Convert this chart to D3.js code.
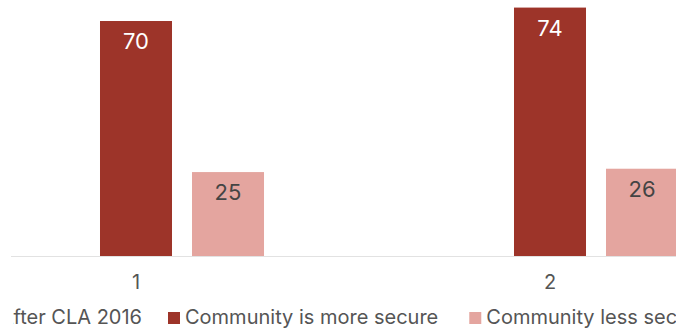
<!DOCTYPE html>
<html>
<head>
<meta charset="utf-8">
<script src="https://cdn.jsdelivr.net/npm/d3@7"></script>
<style>
  html, body { margin: 0; padding: 0; background: #fff; }
  svg { display: block; font-family: Inter, "Noto Sans", sans-serif; }
</style>
</head>
<body>
<svg id="chart" width="693" height="328"></svg>
<script>
// Survey answers, grouped by wave
const categories = ["1", "2"];
const seriesNames = ["After CLA 2016", "Community is more secure", "Community less secure"];
const afterCla = [0, 0];
const moreSecure = [70, 74];
const lessSecure = [25, 26];
const seriesValues = [afterCla, moreSecure, lessSecure];
const seriesColors = ["#ffffff", "#9d3429", "#e4a59f"];
const labelColors = ["#444444", "#ffffff", "#444444"];

const svg = d3.select("#chart");
const width = 693, height = 328;
const viewLeft = 11, viewRight = 676;
const baseline = 256;

const defs = svg.append("defs");
defs.append("clipPath").attr("id", "view")
  .append("rect").attr("x", viewLeft).attr("y", 0)
  .attr("width", viewRight - viewLeft).attr("height", height);
defs.append("clipPath").attr("id", "legendView")
  .append("rect").attr("x", viewLeft + 2).attr("y", 0)
  .attr("width", viewRight - viewLeft - 2).attr("height", height);

const root = svg.append("g").attr("clip-path", "url(#view)");

const x0 = d3.scaleBand().domain(categories).range([-71, 757])
  .paddingInner(0.3816).paddingOuter(0.1908);
const x1 = d3.scaleBand().domain(seriesNames).range([0, x0.bandwidth()])
  .paddingInner(20 / 92).paddingOuter(0);
const y = d3.scaleLinear().domain([0, 80]).range([baseline, baseline - 80 * 3.357]);

const rows = categories.map((c, i) => ({
  cat: c,
  vals: seriesNames.map((s, j) => ({ series: s, idx: j, value: seriesValues[j][i] }))
}));

const groups = root.selectAll("g.group").data(rows).join("g")
  .attr("class", "group")
  .attr("transform", d => `translate(${x0(d.cat)},0)`);

groups.selectAll("rect").data(d => d.vals.filter(v => v.value > 0)).join("rect")
  .attr("x", d => x1(d.series))
  .attr("y", d => y(d.value))
  .attr("width", x1.bandwidth())
  .attr("height", d => y(0) - y(d.value))
  .attr("fill", d => seriesColors[d.idx]);

groups.selectAll("text.val").data(d => d.vals.filter(v => v.value > 0)).join("text")
  .attr("class", "val")
  .attr("x", d => x1(d.series) + x1.bandwidth() / 2)
  .attr("y", d => y(d.value) + 28)
  .attr("text-anchor", "middle")
  .attr("font-size", 22)
  .attr("fill", d => labelColors[d.idx])
  .text(d => d.value);

// Baseline axis
const axis = root.append("g").attr("transform", `translate(0,${baseline})`)
  .call(d3.axisBottom(x0).tickSize(0).tickPadding(0));
axis.select(".domain").remove();
axis.append("line").attr("x1", viewLeft).attr("x2", viewRight)
  .attr("y1", 0.5).attr("y2", 0.5).attr("stroke", "#e2e2e2");
axis.selectAll(".tick text")
  .attr("y", 33).attr("dy", null)
  .attr("font-size", 20).attr("font-family", "Inter, sans-serif")
  .attr("fill", "#555");

// Legend, laid out left to right
const legend = svg.append("g").attr("clip-path", "url(#legendView)")
  .append("g").attr("transform", "translate(0,324)");
const items = legend.selectAll("g").data(seriesNames).join("g");
items.append("text")
  .attr("font-size", 20).attr("fill", "#555")
  .attr("x", 17).attr("y", 0)
  .text(d => d);
items.append("rect")
  .attr("x", 0).attr("y", -12).attr("width", 12).attr("height", 12)
  .attr("fill", (d, i) => seriesColors[i]);
const widths = [];
items.each(function() { widths.push(this.querySelector("text").getComputedTextLength()); });
const gaps = [26, 31, 0];
let cursor = 168 - (17 + widths[0] + gaps[0]);
items.attr("transform", (d, i) => {
  const pos = cursor;
  cursor += 17 + widths[i] + gaps[i];
  return `translate(${pos},0)`;
});
</script>
</body>
</html>
